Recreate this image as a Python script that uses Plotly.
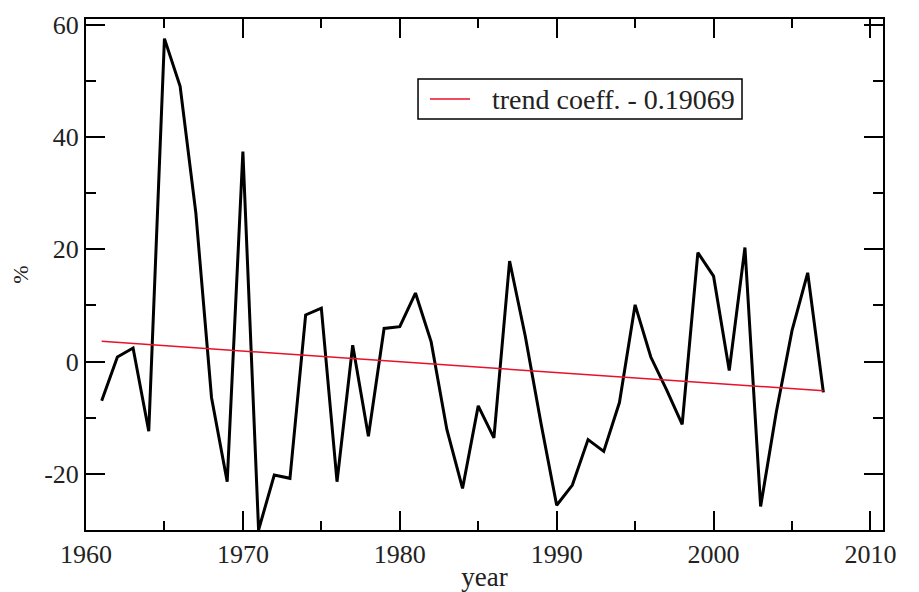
import plotly.graph_objects as go

years = list(range(1961, 2008))
values = [-7.0, 0.8, 2.4, -12.4, 57.5, 49.0, 26.5, -6.4, -21.4, 37.4,
          -30.0, -20.2, -20.8, 8.3, 9.5, -21.4, 2.9, -13.3, 5.9, 6.2,
          12.2, 3.5, -12.1, -22.6, -7.9, -13.6, 17.9, 4.5, -11.0, -25.6,
          -22.0, -13.9, -16.0, -7.3, 10.1, 0.8, -5.0, -11.2, 19.4, 15.2,
          -1.6, 20.3, -25.8, -9.0, 5.5, 15.8, -5.5]

trend_years = [1961, 2007]
trend_values = [3.6, -5.2]
trend_label = "trend coeff. - 0.19069"

x_ticks = [1960, 1970, 1980, 1990, 2000, 2010]
x_ticktext = ["1960", "1970", "1980", "1990", "2000", "2010"]
y_ticks = [-20, 0, 20, 40, 60]
y_ticktext = ["-20", "0", "20", "40", "60"]

FONT = "Liberation Serif, Times New Roman, serif"
RED = "#e8102a"

fig = go.Figure()
fig.add_trace(go.Scatter(x=years, y=values, mode="lines",
                         line=dict(color="black", width=3),
                         showlegend=False, cliponaxis=True))
fig.add_trace(go.Scatter(x=trend_years, y=trend_values, mode="lines",
                         line=dict(color=RED, width=1.5),
                         name=trend_label, showlegend=False))

axis_common = dict(showgrid=False, zeroline=False, showline=True,
                   linecolor="black", linewidth=2, mirror="ticks",
                   ticks="inside", ticklen=19, tickwidth=1.5, tickcolor="black",
                   automargin=False,
                   tickfont=dict(family=FONT, size=26, color="#222"))

fig.update_xaxes(range=[1960, 2010.8], tickvals=x_ticks, ticktext=x_ticktext,
                 minor=dict(dtick=5, tick0=1960, ticklen=9, ticks="inside",
                            tickcolor="black", tickwidth=1.5),
                 title=dict(text="year", font=dict(family=FONT, size=27, color="#222"),
                            standoff=8),
                 **axis_common)
fig.update_yaxes(range=[-30, 61], tickvals=y_ticks, ticktext=y_ticktext,
                 minor=dict(dtick=10, tick0=0, ticklen=10, ticks="inside",
                            tickcolor="black", tickwidth=1.5),
                 title=dict(text="%", font=dict(family=FONT, size=22, color="#222"),
                            standoff=12),
                 **axis_common)

# legend box (drawn in paper coordinates)
fig.add_shape(type="rect", xref="paper", yref="paper",
              x0=0.4166, x1=0.8231, y0=0.8043, y1=0.8826,
              line=dict(color="black", width=1.5), fillcolor="white", layer="above")
fig.add_shape(type="line", xref="paper", yref="paper",
              x0=0.4316, x1=0.4818, y0=0.8434, y1=0.8434,
              line=dict(color=RED, width=1.5), layer="above")
fig.add_annotation(xref="paper", yref="paper", x=0.5069, y=0.8434,
                   xanchor="left", yanchor="middle", showarrow=False,
                   text=trend_label,
                   font=dict(family=FONT, size=28, color="#222"))

fig.update_layout(
    width=911, height=584,
    margin=dict(l=78, r=36, t=11, b=62),
    paper_bgcolor="white", plot_bgcolor="white",
    font=dict(family=FONT, color="#222"),
)

fig.write_html("out.html")
